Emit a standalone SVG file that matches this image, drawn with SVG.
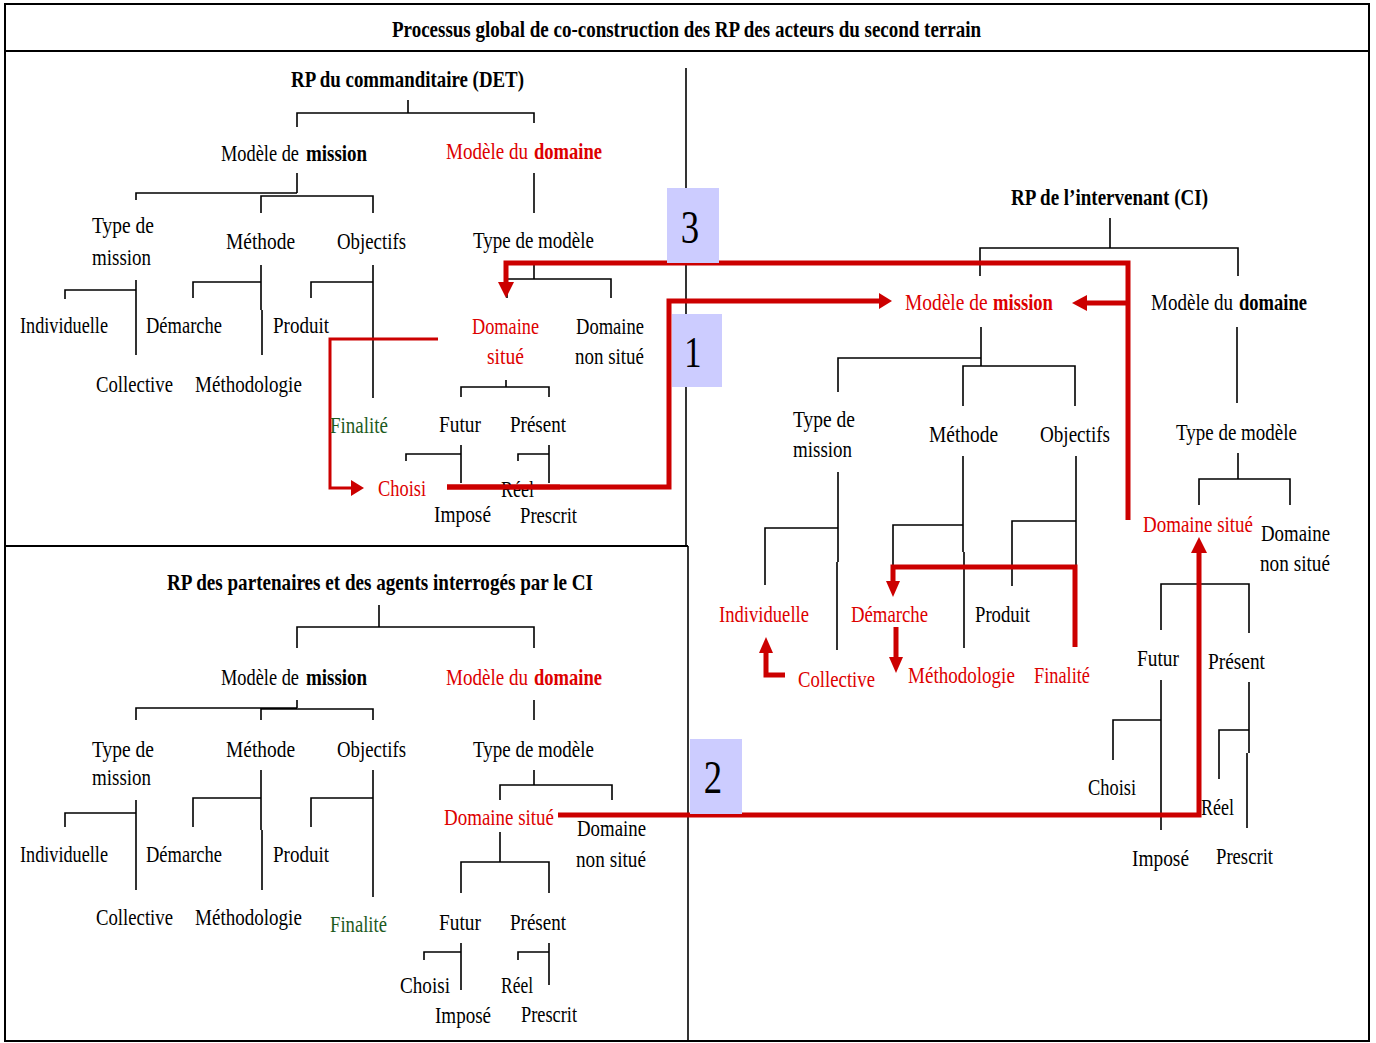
<svg xmlns="http://www.w3.org/2000/svg" width="1376" height="1043" viewBox="0 0 1376 1043">
<defs>
<style>
text{font-family:"Liberation Serif","Times New Roman",serif;font-size:24px;fill:#000}
.b{font-weight:bold}
.r{fill:#dd0000}
.g{fill:#1d5a1d}
.ln{stroke:#000;stroke-width:1.6;fill:none}
.fr{stroke:#000;stroke-width:2;fill:none}
.rd{stroke:#cc0000;stroke-width:5;fill:none}
.rt{stroke:#cc0000;stroke-width:3;fill:none}
.ah{fill:#cc0000}
.box{fill:#ccccff}
.num{font-size:46px}
</style>
</defs>
<rect x="0" y="0" width="1376" height="1043" fill="#fff"/>
<g id="frame">
<rect class="fr" x="5" y="4" width="1364" height="1037"/>
<line class="fr" x1="5" y1="51" x2="1369" y2="51"/>
<line class="ln" x1="686" y1="68" x2="686" y2="546"/>
<line class="fr" x1="5" y1="546" x2="688" y2="546"/>
<line class="ln" x1="688" y1="546" x2="688" y2="1041"/>
</g>
<g id="connectors">
<!-- top-left tree -->
<path class="ln" d="M408,100V113M297,127V113H534V123"/>
<path class="ln" d="M297,173V193M136,200V193H297M261,213V196H373V213" />
<path class="ln" d="M534,173V213"/>
<path class="ln" d="M136,280V355M65,299V290H136"/>
<path class="ln" d="M261,265V310M262,310V355M193,298V282H261"/>
<path class="ln" d="M373,265V398M311,298V282H373"/>
<path class="ln" d="M534,265V279M507,298V279H611V298"/>
<path class="ln" d="M506,380V387M461,397V387H549V397"/>
<path class="ln" d="M461,445V483M406,461V454H461"/>
<path class="ln" d="M549,445V483M518,461V454H549"/>
<!-- bottom-left tree -->
<path class="ln" d="M379,605V627M297,648V627H534V648"/>
<path class="ln" d="M297,700V708M136,720V708H297M261,720V709H373V720"/>
<path class="ln" d="M534,700V720"/>
<path class="ln" d="M136,800V890M65,827V813H136"/>
<path class="ln" d="M261,770V830M262,830V890M193,827V798H261"/>
<path class="ln" d="M373,770V897M311,827V798H373"/>
<path class="ln" d="M534,770V785M500,800V785H612V800"/>
<path class="ln" d="M500,832V862M461,893V862H549V893"/>
<path class="ln" d="M461,943V990M424,960V952H461"/>
<path class="ln" d="M549,943V985M518,960V952H549"/>
<!-- right tree -->
<path class="ln" d="M1110,218V248M980,276V248H1238V276"/>
<path class="ln" d="M981,327V366M838,392V358H981M963,406V366H1075V406"/>
<path class="ln" d="M1237,327V403"/>
<path class="ln" d="M838,472V562M837,562V650M765,585V528H838"/>
<path class="ln" d="M963,456V552M964,552V648M893,567V525H963"/>
<path class="ln" d="M1076,456V567M1012,586V521H1076"/>
<path class="ln" d="M1238,453V479M1199,505V479H1290V505"/>
<path class="ln" d="M1199,540V584M1161,630V584H1249V633"/>
<path class="ln" d="M1161,680V830M1113,760V720H1161"/>
<path class="ln" d="M1249,682V753M1247,753V828M1219,779V730H1249"/>
<!-- red arrows -->
<path class="rt" d="M438,339H330V488H353"/>
<polygon class="ah" points="351,480 364,488 351,496"/>
<path class="rd" d="M447,487H669V301H880"/>
<polygon class="ah" points="879,293 892,301 879,309"/>
<path class="rd" d="M1128,520V263H506V284"/>
<polygon class="ah" points="498,282 506,298 514,282"/>
<path class="rd" d="M1128,303H1086"/>
<polygon class="ah" points="1087,295 1072,303 1087,311"/>
<path class="rd" d="M558,815H1199V552"/>
<polygon class="ah" points="1191,553 1199,537 1207,553"/>
<path class="rd" d="M1075,647V567H893V582"/>
<polygon class="ah" points="886,581 893,597 900,581"/>
<path class="rd" d="M896,627V658"/>
<polygon class="ah" points="889,657 896,673 903,657"/>
<path class="rd" d="M785,675H766V652"/>
<polygon class="ah" points="759,653 766,637 773,653"/>
</g>
<g id="box-3"><rect class="box" x="667" y="188" width="52" height="75"/><text class="num" transform="translate(690,243) scale(0.8,1)" text-anchor="middle">3</text></g>
<g id="box-1"><rect class="box" x="672" y="314" width="50" height="73"/><text class="num" transform="translate(693,367) scale(0.75,0.95)" text-anchor="middle">1</text></g>
<g id="box-2"><rect class="box" x="690" y="739" width="52" height="75"/><text class="num" transform="translate(713,793) scale(0.8,1)" text-anchor="middle">2</text></g>
<g id="title"><text class="b" x="392" y="37" textLength="589" lengthAdjust="spacingAndGlyphs">Processus global de co-construction des RP des acteurs du second terrain</text></g>
<!-- top-left -->
<g id="tl-root"><text class="b" x="291" y="87" textLength="233" lengthAdjust="spacingAndGlyphs">RP du commanditaire (DET)</text></g>
<g id="tl-mission"><text transform="translate(221,161) scale(0.765,1)">Modèle de</text><text class="b" transform="translate(306,161) scale(0.79,1)">mission</text></g>
<g id="tl-domaine"><text class="r" transform="translate(446,159) scale(0.794,1)">Modèle du</text><text class="r b" transform="translate(534,159) scale(0.773,1)">domaine</text></g>
<g id="tl-type"><text x="92" y="233" textLength="62" lengthAdjust="spacingAndGlyphs">Type de</text><text x="92" y="265" textLength="59" lengthAdjust="spacingAndGlyphs">mission</text></g>
<g id="tl-methode"><text x="226" y="249" textLength="69" lengthAdjust="spacingAndGlyphs">Méthode</text></g>
<g id="tl-objectifs"><text x="337" y="249" textLength="69" lengthAdjust="spacingAndGlyphs">Objectifs</text></g>
<g id="tl-typemodele"><text x="473" y="248" textLength="121" lengthAdjust="spacingAndGlyphs">Type de modèle</text></g>
<g id="tl-individuelle"><text x="20" y="333" textLength="88" lengthAdjust="spacingAndGlyphs">Individuelle</text></g>
<g id="tl-demarche"><text x="146" y="333" textLength="76" lengthAdjust="spacingAndGlyphs">Démarche</text></g>
<g id="tl-produit"><text x="273" y="333" textLength="56" lengthAdjust="spacingAndGlyphs">Produit</text></g>
<g id="tl-situe"><text class="r" x="472" y="334" textLength="67" lengthAdjust="spacingAndGlyphs">Domaine</text><text class="r" x="487" y="364" textLength="37" lengthAdjust="spacingAndGlyphs">situé</text></g>
<g id="tl-nonsitue"><text x="576" y="334" textLength="68" lengthAdjust="spacingAndGlyphs">Domaine</text><text x="575" y="364" textLength="69" lengthAdjust="spacingAndGlyphs">non situé</text></g>
<g id="tl-collective"><text x="96" y="392" textLength="77" lengthAdjust="spacingAndGlyphs">Collective</text></g>
<g id="tl-methodologie"><text transform="translate(195,392) scale(0.794,1)">Méthodologie</text></g>
<g id="tl-finalite"><text class="g" x="330" y="433" textLength="58" lengthAdjust="spacingAndGlyphs">Finalité</text></g>
<g id="tl-futur"><text x="439" y="432" textLength="42" lengthAdjust="spacingAndGlyphs">Futur</text></g>
<g id="tl-present"><text x="510" y="432" textLength="56" lengthAdjust="spacingAndGlyphs">Présent</text></g>
<g id="tl-choisi"><text class="r" x="378" y="496" textLength="48" lengthAdjust="spacingAndGlyphs">Choisi</text></g>
<g id="tl-reel"><text x="501" y="497" textLength="33" lengthAdjust="spacingAndGlyphs">Réel</text></g>
<g id="tl-impose"><text x="434" y="522" textLength="57" lengthAdjust="spacingAndGlyphs">Imposé</text></g>
<g id="tl-prescrit"><text x="520" y="523" textLength="57" lengthAdjust="spacingAndGlyphs">Prescrit</text></g>
<!-- bottom-left -->
<g id="bl-root"><text class="b" x="167" y="590" textLength="426" lengthAdjust="spacingAndGlyphs">RP des partenaires et des agents interrogés par le CI</text></g>
<g id="bl-mission"><text transform="translate(221,685) scale(0.765,1)">Modèle de</text><text class="b" transform="translate(306,685) scale(0.79,1)">mission</text></g>
<g id="bl-domaine"><text class="r" transform="translate(446,685) scale(0.794,1)">Modèle du</text><text class="r b" transform="translate(534,685) scale(0.773,1)">domaine</text></g>
<g id="bl-type"><text x="92" y="757" textLength="62" lengthAdjust="spacingAndGlyphs">Type de</text><text x="92" y="785" textLength="59" lengthAdjust="spacingAndGlyphs">mission</text></g>
<g id="bl-methode"><text x="226" y="757" textLength="69" lengthAdjust="spacingAndGlyphs">Méthode</text></g>
<g id="bl-objectifs"><text x="337" y="757" textLength="69" lengthAdjust="spacingAndGlyphs">Objectifs</text></g>
<g id="bl-typemodele"><text x="473" y="757" textLength="121" lengthAdjust="spacingAndGlyphs">Type de modèle</text></g>
<g id="bl-individuelle"><text x="20" y="862" textLength="88" lengthAdjust="spacingAndGlyphs">Individuelle</text></g>
<g id="bl-demarche"><text x="146" y="862" textLength="76" lengthAdjust="spacingAndGlyphs">Démarche</text></g>
<g id="bl-produit"><text x="273" y="862" textLength="56" lengthAdjust="spacingAndGlyphs">Produit</text></g>
<g id="bl-situe"><text class="r" transform="translate(444,825) scale(0.79,1)">Domaine situé</text></g>
<g id="bl-nonsitue"><text x="577" y="836" textLength="69" lengthAdjust="spacingAndGlyphs">Domaine</text><text x="576" y="867" textLength="70" lengthAdjust="spacingAndGlyphs">non situé</text></g>
<g id="bl-collective"><text x="96" y="925" textLength="77" lengthAdjust="spacingAndGlyphs">Collective</text></g>
<g id="bl-methodologie"><text transform="translate(195,925) scale(0.794,1)">Méthodologie</text></g>
<g id="bl-finalite"><text class="g" x="330" y="932" textLength="57" lengthAdjust="spacingAndGlyphs">Finalité</text></g>
<g id="bl-futur"><text x="439" y="930" textLength="42" lengthAdjust="spacingAndGlyphs">Futur</text></g>
<g id="bl-present"><text x="510" y="930" textLength="56" lengthAdjust="spacingAndGlyphs">Présent</text></g>
<g id="bl-choisi"><text x="400" y="993" textLength="50" lengthAdjust="spacingAndGlyphs">Choisi</text></g>
<g id="bl-reel"><text x="501" y="993" textLength="32" lengthAdjust="spacingAndGlyphs">Réel</text></g>
<g id="bl-impose"><text x="435" y="1023" textLength="56" lengthAdjust="spacingAndGlyphs">Imposé</text></g>
<g id="bl-prescrit"><text x="521" y="1022" textLength="56" lengthAdjust="spacingAndGlyphs">Prescrit</text></g>
<!-- right -->
<g id="r-root"><text class="b" x="1011" y="205" textLength="197" lengthAdjust="spacingAndGlyphs">RP de l’intervenant (CI)</text></g>
<g id="r-mission"><text class="r" transform="translate(905,310) scale(0.81,1)">Modèle de</text><text class="r b" transform="translate(993,310) scale(0.775,1)">mission</text></g>
<g id="r-domaine"><text transform="translate(1151,310) scale(0.794,1)">Modèle du</text><text class="b" transform="translate(1239,310) scale(0.773,1)">domaine</text></g>
<g id="r-type"><text x="793" y="427" textLength="62" lengthAdjust="spacingAndGlyphs">Type de</text><text x="793" y="457" textLength="59" lengthAdjust="spacingAndGlyphs">mission</text></g>
<g id="r-methode"><text x="929" y="442" textLength="69" lengthAdjust="spacingAndGlyphs">Méthode</text></g>
<g id="r-objectifs"><text x="1040" y="442" textLength="70" lengthAdjust="spacingAndGlyphs">Objectifs</text></g>
<g id="r-typemodele"><text x="1176" y="440" textLength="121" lengthAdjust="spacingAndGlyphs">Type de modèle</text></g>
<g id="r-situe"><text class="r" transform="translate(1143,532) scale(0.79,1)">Domaine situé</text></g>
<g id="r-nonsitue"><text x="1261" y="541" textLength="69" lengthAdjust="spacingAndGlyphs">Domaine</text><text x="1260" y="571" textLength="70" lengthAdjust="spacingAndGlyphs">non situé</text></g>
<g id="r-individuelle"><text class="r" x="719" y="622" textLength="90" lengthAdjust="spacingAndGlyphs">Individuelle</text></g>
<g id="r-demarche"><text class="r" x="851" y="622" textLength="77" lengthAdjust="spacingAndGlyphs">Démarche</text></g>
<g id="r-produit"><text x="975" y="622" textLength="55" lengthAdjust="spacingAndGlyphs">Produit</text></g>
<g id="r-collective"><text class="r" x="798" y="687" textLength="77" lengthAdjust="spacingAndGlyphs">Collective</text></g>
<g id="r-methodologie"><text class="r" transform="translate(908,683) scale(0.794,1)">Méthodologie</text></g>
<g id="r-finalite"><text class="r" x="1034" y="683" textLength="56" lengthAdjust="spacingAndGlyphs">Finalité</text></g>
<g id="r-futur"><text x="1137" y="666" textLength="42" lengthAdjust="spacingAndGlyphs">Futur</text></g>
<g id="r-present"><text x="1208" y="669" textLength="57" lengthAdjust="spacingAndGlyphs">Présent</text></g>
<g id="r-choisi"><text x="1088" y="795" textLength="48" lengthAdjust="spacingAndGlyphs">Choisi</text></g>
<g id="r-reel"><text x="1201" y="815" textLength="33" lengthAdjust="spacingAndGlyphs">Réel</text></g>
<g id="r-impose"><text x="1132" y="866" textLength="57" lengthAdjust="spacingAndGlyphs">Imposé</text></g>
<g id="r-prescrit"><text x="1216" y="864" textLength="57" lengthAdjust="spacingAndGlyphs">Prescrit</text></g>
<g id="overlay">
<path class="rd" d="M447,487H560"/>
</g>
</svg>
